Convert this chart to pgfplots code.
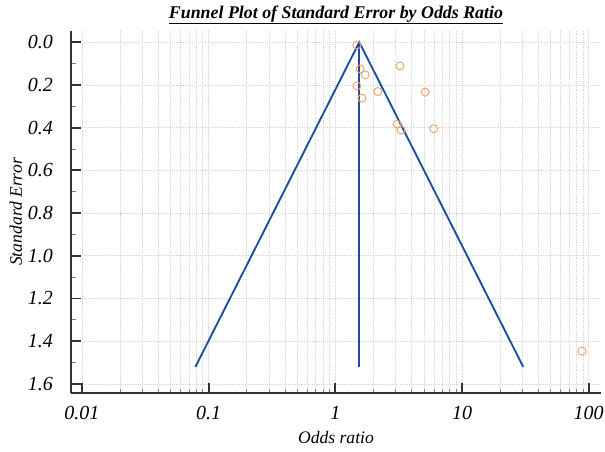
\documentclass[border=0pt]{standalone}
\usepackage{fontspec}
\setmainfont{Liberation Serif}
\usepackage{pgfplots}
\pgfplotsset{compat=1.18}

\definecolor{funnelblue}{HTML}{1F4E9E}
\definecolor{studyorange}{HTML}{F4A067}
\definecolor{spine}{HTML}{333333}
\definecolor{gridgray}{HTML}{D6D6D6}

\begin{document}
\begin{tikzpicture}
\begin{axis}[
  scale only axis,
  width=397.5pt, height=272pt,
  xmode=log,
  xmin=0.00819, xmax=125,
  ymin=-0.054, ymax=1.644,
  y dir=reverse,
  axis x line=bottom, axis y line=left,
  axis line style={-, line width=1.5pt, color=spine},
  xtick={0.01,0.1,1,10,100},
  xticklabels={0.01,0.1,1,10,100},
  ytick={0,0.2,0.4,0.6,0.8,1.0,1.2,1.4,1.6},
  yticklabels={0.0,0.2,0.4,0.6,0.8,1.0,1.2,1.4,1.6},
  minor ytick={0.1,0.3,0.5,0.7,0.9,1.1,1.3,1.5},
  tick align=inside,
  major tick length=7.5pt, minor tick length=3.5pt,
  major tick style={line width=1.3pt, color=spine},
  minor tick style={line width=0.6pt, color=gray},
  xmajorgrids, xminorgrids, ymajorgrids,
  grid style={densely dotted, line width=0.6pt, color=gridgray},
  tick label style={font=\fontsize{15}{15}\selectfont\itshape},
  yticklabel style={xshift=-10pt},
  xticklabel style={yshift=-6pt},
  xlabel={Odds ratio},
  ylabel={Standard Error},
  label style={font=\fontsize{13.2}{13.2}\selectfont\itshape},
  xlabel style={at={(axis description cs:0.5,-0.1206)}, anchor=center},
  ylabel style={at={(axis description cs:-0.1038,0.5)}, anchor=center},
  title={\underline{Funnel Plot of Standard Error by Odds Ratio}},
  title style={font=\fontsize{13.4}{13.4}\selectfont\bfseries\itshape,
    at={(axis description cs:0.5,1)}, anchor=base, yshift=3.5pt},
  clip=false,
]
% pseudo 95% confidence limits and the pooled estimate
\addplot[color=funnelblue, line width=1.4pt] coordinates {
  (0.0786,1.52) (1.545,0) (30.4,1.52)
};
\addplot[color=funnelblue, line width=1.4pt] coordinates {
  (1.545,0) (1.545,1.52)
};
% individual studies
\addplot[only marks, mark=o, mark size=3pt, color=studyorange, mark options={line width=0.7pt}] coordinates {
  (1.48,0.013)
  (1.57,0.125)
  (1.72,0.153)
  (3.24,0.111)
  (1.48,0.205)
  (2.16,0.231)
  (5.13,0.234)
  (1.62,0.262)
  (3.07,0.384)
  (3.30,0.411)
  (5.98,0.405)
  (88.5,1.446)
};
\end{axis}
\pgfresetboundingbox
\path[use as bounding box] (-53.25pt,-43.3pt) rectangle (400.5pt,295pt);
\end{tikzpicture}
\end{document}
